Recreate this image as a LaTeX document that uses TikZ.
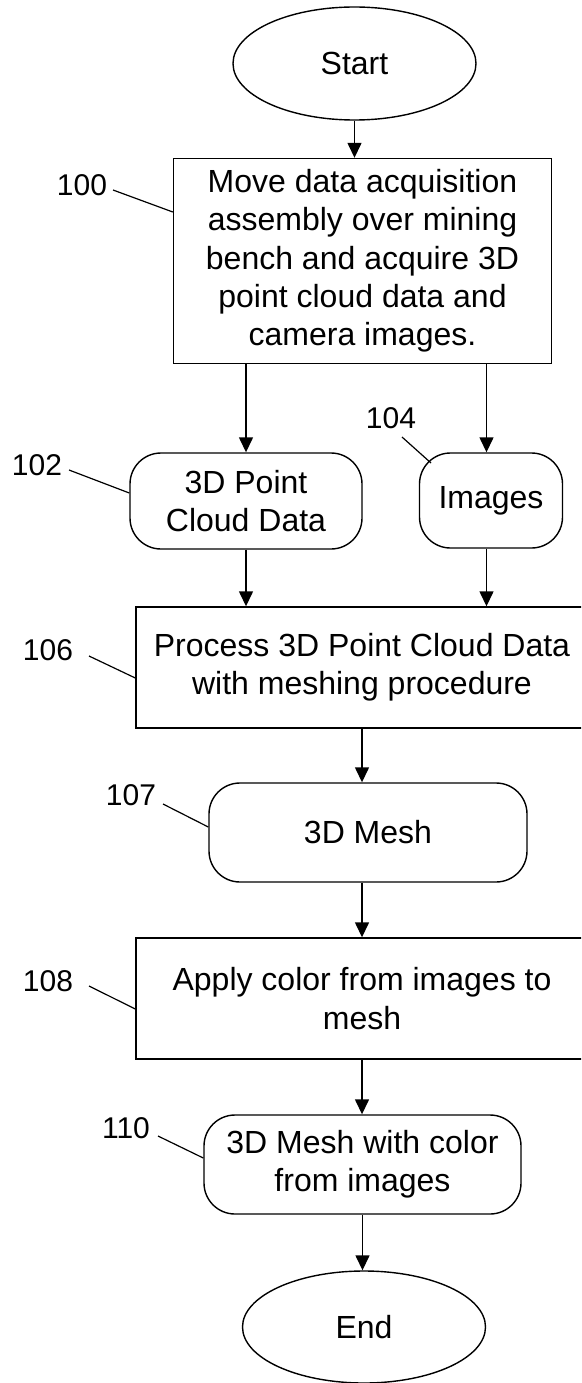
\documentclass[tikz,border=0pt]{standalone}
\usepackage{fontspec}
\setmainfont{Liberation Sans}
\usetikzlibrary{shapes.geometric,arrows.meta}
\begin{document}
\begin{tikzpicture}[x=1pt,y=-1pt,
  line width=1.4pt,
  txt/.style={font=\fontsize{32}{38.3}\selectfont, align=center, inner sep=0pt},
  term/.style={txt, draw, ellipse, minimum width=243pt, minimum height=113pt},
  proc/.style={txt, draw, rectangle},
  data/.style={txt, draw, rectangle, rounded corners=31pt},
  lbl/.style={font=\fontsize{30}{36}\selectfont, inner sep=0pt},
  flow/.style={-{Triangle[length=15pt,width=14pt]}},
  lead/.style={line width=1.2pt}]
\useasboundingbox (0,0) rectangle (581,1383);
\clip (0,0) rectangle (581,1383);
% nodes
\node[term] (start) at (354.5,63.5) {Start};
\node[proc, minimum width=378pt, minimum height=205pt] (b100) at (362.5,261)
  {Move data acquisition\\assembly over mining\\bench and acquire 3D\\point cloud data and\\camera images.};
\node[data, minimum width=232pt, minimum height=96pt] (n102) at (246,501) {3D Point\\Cloud Data};
\node[data, minimum width=143pt, minimum height=95pt] (n104) at (491,500.5) {Images};
\node[proc, minimum width=452pt, minimum height=121pt] (b106) at (362,667.5)
  {Process 3D Point Cloud Data\\with meshing procedure};
\node[data, minimum width=318pt, minimum height=99pt] (n107) at (368,832.5) {3D Mesh};
\node[proc, minimum width=452pt, minimum height=121pt] (b108) at (362,998.5)
  {Apply color from images to\\mesh};
\node[data, minimum width=317pt, minimum height=99pt] (n110) at (362.5,1164.5)
  {3D Mesh with color\\from images};
\node[term, minimum height=112pt] (end) at (364,1327) {End};
% flow arrows
\draw[flow] (start.south) -- (start.south |- b100.north);
\draw[flow] (b100.south -| n102.north) -- (n102.north);
\draw[flow] ([xshift=-4.5pt]n104.north |- b100.south) -- ([xshift=-4.5pt]n104.north);
\draw[flow] (n102.south) -- (n102.south |- b106.north);
\draw[flow] ([xshift=-4.5pt]n104.south) -- ([xshift=-4.5pt]n104.south |- b106.north);
\draw[flow] (b106.south) -- (b106.south |- n107.north);
\draw[flow] (n107.south -| b108.north) -- (b108.north);
\draw[flow] (b108.south) -- (b108.south |- n110.north);
\draw[flow] (n110.south) -- (n110.south |- end.north);
% reference labels
\node[lbl] (l100) at (82,185) {100};
\node[lbl] (l102) at (37,465) {102};
\node[lbl] (l104) at (391,418) {104};
\node[lbl] (l106) at (48,650) {106};
\node[lbl] (l107) at (131,795) {107};
\node[lbl] (l108) at (48,981) {108};
\node[lbl] (l110) at (126,1128) {110};
\coordinate (k100) at (113,190);
\coordinate (k102) at (69,470);
\coordinate (k104) at (402,437);
\coordinate (k104b) at (431,463);
\coordinate (k106) at (89,656);
\coordinate (k107) at (163,804);
\coordinate (k108) at (89,986);
\coordinate (k110) at (158,1136);
\draw[lead] (k100) -- ([yshift=49pt]b100.west);
\draw[lead] (k102) -- ([yshift=8pt]n102.west);
\draw[lead] (k104) -- (k104b);
\draw[lead] (k106) -- ([yshift=-10.5pt]b106.west);
\draw[lead] (k107) -- ([yshift=5.5pt]n107.west);
\draw[lead] (k108) -- ([yshift=-10.5pt]b108.west);
\draw[lead] (k110) -- ([yshift=6.5pt]n110.west);
\end{tikzpicture}
\end{document}
